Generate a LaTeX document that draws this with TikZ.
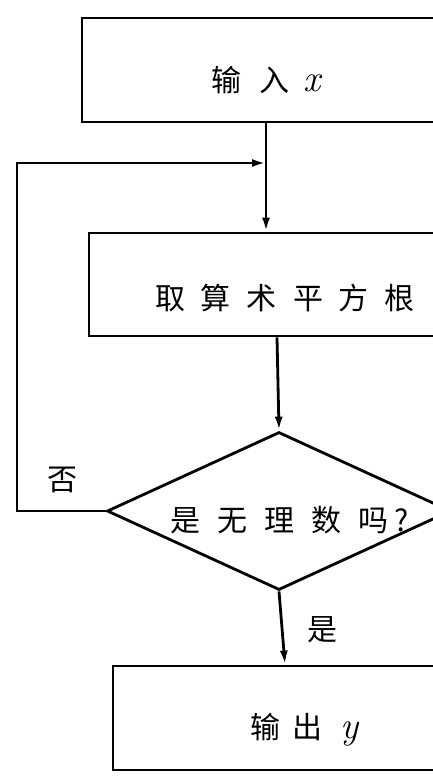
\documentclass[tikz,border=0pt]{standalone}
\usepackage{fontspec}
\newfontfamily\cjk{Noto Sans CJK SC}
\usetikzlibrary{arrows.meta,shapes.geometric}
\begin{document}
\begin{tikzpicture}[x=1pt,y=-1pt,line width=2.8pt,
  box/.style={draw,rectangle,inner sep=0pt,minimum height=104pt},
  txt/.style={font=\cjk\fontsize{30}{34}\selectfont,inner sep=0pt},
  var/.style={font=\rmfamily\itshape\fontsize{38}{40}\selectfont},
  arr/.style={-{Latex[length=14pt,width=8pt]}}]
\useasboundingbox (0,0) rectangle (433,778);
\clip (0,0) rectangle (433,778);
\fill[white] (0,0) rectangle (433,778);
% boxes
\node[box,minimum width=368pt] (b1) at (266,70) {};
\node[box,minimum width=376pt,minimum height=103pt] (b2) at (277,284.5) {};
\node[draw,diamond,inner sep=0pt,aspect=2.18,minimum width=344pt,minimum height=158pt] (d) at (279,511) {};
\node[box,minimum width=344pt] (b3) at (285,718) {};
% texts
\node[txt,yshift=-10pt] (t1) at (b1) {输\hspace{18pt}入\hspace{14pt}{\rmfamily\itshape\fontsize{38}{40}\selectfont x}};
\node[txt,yshift=-14pt,xshift=8pt] (t2) at (b2) {取\hspace{16pt}算\hspace{16pt}术\hspace{16pt}平\hspace{16pt}方\hspace{16pt}根};
\node[txt,yshift=-9pt,xshift=11pt] (t3) at (d) {是\hspace{17pt}无\hspace{17pt}理\hspace{17pt}数\hspace{17pt}吗\hspace{6pt}?};
\node[txt,yshift=-12pt,xshift=20pt] (t4) at (b3) {输\hspace{12pt}出\hspace{18pt}{\rmfamily\itshape\fontsize{38}{40}\selectfont y}};
\node[txt] (no) at (62,480) {否};
\node[txt] (yes) at (322,630) {是};
% connectors
\coordinate (j) at (266,163);
\draw[arr] (b1.south) -- (b1.south |- b2.north);
\draw[arr] (b2.south) -- (d.north);
\draw[arr] (d.south) -- (b3.north);
\draw[arr] (d.west) -- (17,511) -- (17,163) -- (j);
\end{tikzpicture}
\end{document}
